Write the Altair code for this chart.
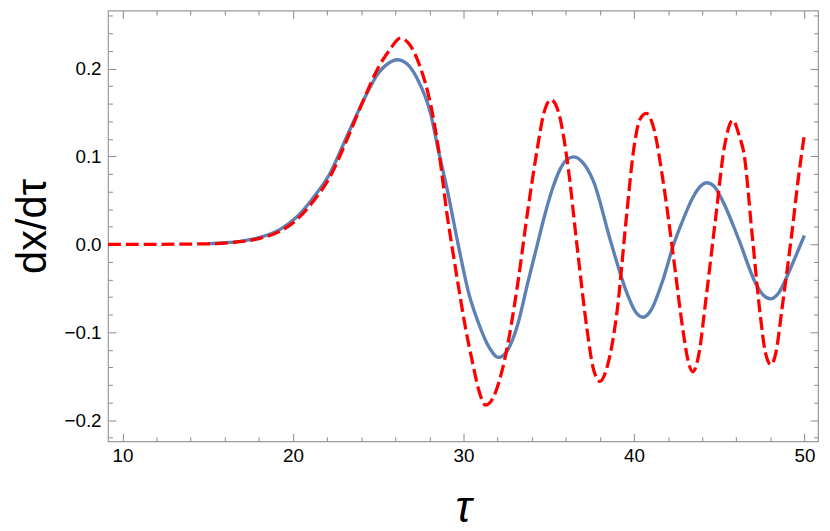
import altair as alt
import pandas as pd

# ---- data ----
tau_blue = [15.0, 16.0, 17.0, 18.0, 19.25, 20.22, 21.19, 22.15, 23.12, 24.09, 25.06, 25.6, 26.13,
            26.7, 27.3, 28.07, 28.54, 29.05, 29.75, 30.3, 30.87, 31.5, 32.05, 32.6, 33.2, 33.77,
            34.3, 34.74, 35.2, 35.71, 36.1, 36.47, 36.9, 37.64, 38.61, 39.58, 40.1, 40.55, 41.0,
            41.71, 42.3, 42.8, 43.45, 43.9, 44.28, 44.7, 45.19, 46.16, 47.13, 47.6, 48.0, 48.5,
            49.06, 49.5, 50.0]
val_blue = [0.0008, 0.0018, 0.0037, 0.0075, 0.017, 0.031, 0.053, 0.080, 0.121, 0.162, 0.196, 0.206, 0.210,
            0.205, 0.188, 0.149, 0.106, 0.062, -0.006, -0.055, -0.089, -0.117, -0.1287, -0.120, -0.090, -0.044,
            -0.003, 0.031, 0.062, 0.087, 0.097, 0.0995, 0.095, 0.071, 0.005, -0.055, -0.077, -0.083, -0.075,
            -0.040, -0.002, 0.024, 0.053, 0.066, 0.070, 0.066, 0.050, 0.005, -0.044, -0.058, -0.062, -0.055,
            -0.033, -0.013, 0.010]

tau_red = [9.15, 12.0, 15.0, 17.0, 18.0, 19.25, 20.22, 21.19, 22.15, 23.12, 24.09, 25.06, 25.7, 26.3,
           26.85, 27.38, 28.16, 28.6, 29.03, 29.35, 29.7, 30.1, 30.57, 30.9, 31.3, 31.7, 32.42, 33.19,
           33.77, 34.3, 34.7, 35.13, 35.55, 36.09, 36.67, 37.25, 37.6, 38.0, 38.45, 39.0, 39.58, 40.0,
           40.35, 40.73, 41.15, 41.71, 42.29, 42.87, 43.15, 43.45, 43.8, 44.22, 44.8, 45.3, 45.8, 46.2,
           46.45, 46.93, 47.42, 47.7, 48.04, 48.35, 48.68, 49.26, 49.65, 50.0]
val_red = [0.0, 0.0, 0.0006, 0.0032, 0.0065, 0.015, 0.028, 0.049, 0.076, 0.117, 0.162, 0.203, 0.222, 0.2345,
           0.227, 0.206, 0.151, 0.100, 0.035, -0.005, -0.047, -0.093, -0.138, -0.166, -0.183, -0.176, -0.131, -0.044,
           0.038, 0.105, 0.148, 0.1645, 0.152, 0.095, -0.003, -0.097, -0.140, -0.156, -0.138, -0.078, 0.035, 0.110,
           0.142, 0.149, 0.133, 0.072, -0.010, -0.097, -0.130, -0.145, -0.126, -0.063, 0.031, 0.110, 0.141, 0.122,
           0.104, 0.012, -0.082, -0.122, -0.137, -0.121, -0.074, 0.012, 0.076, 0.125]

x_major = [10, 20, 30, 40, 50]
x_minor = [12, 14, 16, 18, 22, 24, 26, 28, 32, 34, 36, 38, 42, 44, 46, 48]
y_major = [-0.2, -0.1, 0.0, 0.1, 0.2]
y_minor = [-0.22, -0.18, -0.16, -0.14, -0.12, -0.08, -0.06, -0.04, -0.02,
           0.02, 0.04, 0.06, 0.08, 0.12, 0.14, 0.16, 0.18, 0.22, 0.24, 0.26]

blue = pd.DataFrame({"t": tau_blue, "v": val_blue})
red = pd.DataFrame({"t": tau_red, "v": val_red})

FONT = "Liberation Sans"
TICK = "#8a8a8a"
xs = alt.Scale(domain=[9.15, 50.8], nice=False, zero=False)
ys = alt.Scale(domain=[-0.2241, 0.266], nice=False, zero=False)


def tick_axis(orient, values, size):
    return alt.Axis(orient=orient, values=values, labels=False, domain=False, grid=False,
                    ticks=True, tickSize=size, offset=-size, tickColor=TICK, tickWidth=1,
                    title=None)


x_main = alt.Axis(orient="bottom", values=x_major, format="d", domain=False, grid=False,
                  ticks=True, tickSize=8, offset=-8, tickColor=TICK, tickWidth=1,
                  labelFont=FONT, labelFontSize=19, labelColor="black", labelPadding=5,
                  title="τ", titleFont=FONT, titleFontSize=44, titleFontStyle="italic",
                  titleFontWeight="normal", titleColor="black", titlePadding=22)
y_main = alt.Axis(orient="left", values=y_major, format=".1f", domain=False, grid=False,
                  ticks=True, tickSize=8, offset=-8, tickColor=TICK, tickWidth=1,
                  labelFont=FONT, labelFontSize=19, labelColor="black", labelPadding=7,
                  title="dx/dτ", titleFont=FONT, titleFontSize=42, titleFontWeight="normal",
                  titleColor="black", titlePadding=10)

blue_line = alt.Chart(blue).mark_line(color="#5E81B5", strokeWidth=3.4, interpolate="monotone").encode(
    x=alt.X("t:Q", scale=xs, axis=x_main),
    y=alt.Y("v:Q", scale=ys, axis=y_main),
)
red_line = alt.Chart(red).mark_line(color="#FF0000", strokeWidth=3.3, strokeDash=[13, 5],
                                    interpolate="monotone").encode(
    x=alt.X("t:Q", scale=xs, axis=tick_axis("top", x_major, 8)),
    y=alt.Y("v:Q", scale=ys, axis=tick_axis("right", y_major, 8)),
)
minor_a = alt.Chart(red).mark_line(opacity=0).encode(
    x=alt.X("t:Q", scale=xs, axis=tick_axis("bottom", x_minor, 4.5)),
    y=alt.Y("v:Q", scale=ys, axis=tick_axis("left", y_minor, 4.5)),
)
minor_b = alt.Chart(red).mark_line(opacity=0).encode(
    x=alt.X("t:Q", scale=xs, axis=tick_axis("top", x_minor, 4.5)),
    y=alt.Y("v:Q", scale=ys, axis=tick_axis("right", y_minor, 4.5)),
)

chart = alt.layer(blue_line, red_line, minor_a, minor_b).resolve_axis(
    x="independent", y="independent"
).properties(
    width=717, height=435,
    autosize=alt.AutoSizeParams(type="none"),
    padding={"left": 101, "top": 0, "right": 4, "bottom": 80},
    background="white",
).configure_view(stroke="#9a9a9a", strokeWidth=1.2)

chart.save("out.html", embed_options={"renderer": "svg", "actions": False})
